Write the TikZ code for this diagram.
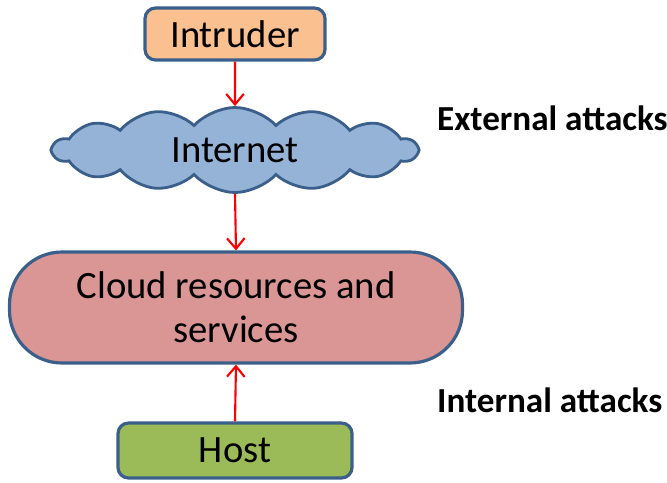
\documentclass[tikz,border=0pt]{standalone}
\usepackage{fontspec}
\setmainfont{Carlito}
\usepackage{tikz}
\usetikzlibrary{shapes,shapes.symbols,arrows.meta,calc,positioning}
\definecolor{edgeblue}{HTML}{3A5F8B}
\definecolor{intruderfill}{HTML}{FAC090}
\definecolor{cloudfill}{HTML}{95B3D7}
\definecolor{resfill}{HTML}{D99694}
\definecolor{hostfill}{HTML}{9BBB59}
\definecolor{attackred}{HTML}{FF0000}

\begin{document}
\begin{tikzpicture}[
    box/.style={draw=edgeblue, line width=1.8pt, rounded corners=6pt, align=center,
        font=\fontsize{22}{25}\selectfont, inner sep=0pt},
    attack/.style={-{Straight Barb[length=6pt,width=10pt]}, attackred, line width=1.2pt},
    side/.style={anchor=west, font=\fontsize{20}{22}\selectfont\bfseries}
  ]
            \useasboundingbox (0,0) rectangle (13.34,-9.64);
            % Define points
            \coordinate (I) at (4.70,-0.68);
            \coordinate (N) at (4.70,-3.00);
            \coordinate (R) at (4.72,-6.15);
            \coordinate (H) at (4.70,-9.01);
            % Draw the boxes
            \node[box, fill=intruderfill, minimum width=3.6cm, minimum height=1.04cm] (intruder) at (I) {Intruder};
            \node[cloud, cloud puffs=14, cloud puff arc=95, aspect=3.3, draw=edgeblue, line width=1.6pt,
                fill=cloudfill, minimum width=7.28cm, minimum height=1.7cm, inner sep=0pt,
                font=\fontsize{22}{25}\selectfont] (internet) at (N) {Internet};
            \node[box, fill=resfill, rounded corners=1.05cm, minimum width=9.06cm, minimum height=2.22cm] (resources) at (R)
                {Cloud resources and\\services};
            \node[box, fill=hostfill, minimum width=4.68cm, minimum height=1.1cm] (host) at (H) {Host};
            % Draw the attacks
            \draw[attack] (intruder.south) -- (internet.north);
            \draw[attack] (internet.south) -- (resources.north);
            \draw[attack] (host.north) -- (resources.south);
            % Label the attacks
            \node[side] (external) at (8.62,-2.36) {External attacks};
            \node[side] (internal) at (8.62,-8.00) {Internal attacks};
          \end{tikzpicture}
\end{document}
